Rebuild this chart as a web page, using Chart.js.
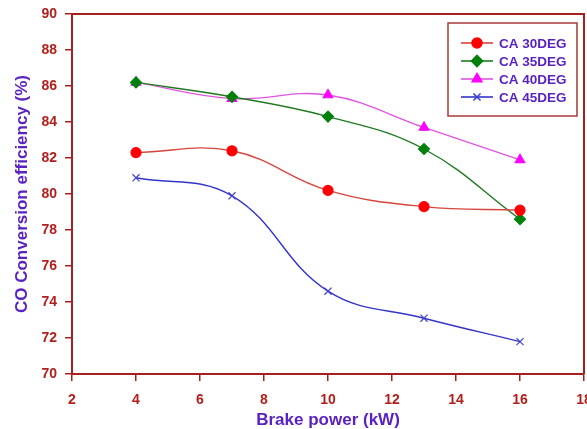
<!DOCTYPE html>
<html><head><meta charset="utf-8">
<script src="https://cdn.jsdelivr.net/npm/chart.js@4/dist/chart.umd.min.js"></script>
<style>html,body{margin:0;padding:0;background:#fff}#wrap{width:587px;height:429px}</style>
</head><body><div id="wrap"><canvas id="c" width="587" height="429"></canvas></div>
<script>
const xValues = [4, 7, 10, 13, 16];
const ca30 = [82.3, 82.4, 80.2, 79.3, 79.1];
const ca35 = [86.2, 85.4, 84.3, 82.5, 78.6];
const ca40 = [86.2, 85.3, 85.5, 83.7, 81.9];
const ca45 = [80.9, 79.9, 74.6, 73.1, 71.8];
const seriesNames = ['CA 30DEG', 'CA 35DEG', 'CA 40DEG', 'CA 45DEG'];
const xTitle = 'Brake power (kW)';
const yTitle = 'CO Conversion efficiency (%)';

const axisColor = '#a8201e';
const tickTextColor = '#b0201c';
const titleColor = '#5a22c0';

function pts(vals){ return vals.map((v,i)=>({x:xValues[i], y:v})); }

const styles = [
  {line:'#d8453c', fill:'#ff0000', point:'circle', r:5},
  {line:'#1f7a1f', fill:'#00800a', point:'rectRot', r:5.5},
  {line:'#e055e0', fill:'#ff00ff', point:'triangle', r:5.5},
  {line:'#3535c8', fill:'#4040d0', point:'crossRot', r:5}
];
const allVals = [ca30, ca35, ca40, ca45];

const datasets = allVals.map((vals,i)=>({
  label: seriesNames[i],
  data: pts(vals),
  borderColor: styles[i].line,
  backgroundColor: styles[i].fill,
  pointBorderColor: styles[i].fill,
  pointBackgroundColor: styles[i].fill,
  pointStyle: styles[i].point,
  pointRadius: styles[i].r,
  pointBorderWidth: 1.2,
  borderWidth: 1.4,
  tension: 0.4,
  fill: false
}));

const framePlugin = {
  id: 'frame',
  afterDatasetsDraw(chart){
    const {ctx, chartArea:a} = chart;
    ctx.save();
    ctx.strokeStyle = axisColor;
    ctx.lineWidth = 2;
    ctx.beginPath();
    ctx.moveTo(a.left, a.top); ctx.lineTo(a.right, a.top); ctx.lineTo(a.right, a.bottom);
    ctx.stroke();
    // legend box
    const bx = 448, by = 23, bw = 129, bh = 93;
    ctx.fillStyle = '#fff';
    ctx.fillRect(bx, by, bw, bh);
    ctx.strokeStyle = '#a83a3a';
    ctx.lineWidth = 1.5;
    ctx.strokeRect(bx, by, bw, bh);
    ctx.font = 'bold 13.5px "Liberation Sans", Arial, sans-serif';
    ctx.textBaseline = 'middle';
    seriesNames.forEach((name,i)=>{
      const y = by + 20 + i*18;
      const s = styles[i];
      ctx.strokeStyle = s.line;
      ctx.lineWidth = 1.6;
      ctx.beginPath(); ctx.moveTo(bx+13, y); ctx.lineTo(bx+45, y); ctx.stroke();
      ctx.fillStyle = s.fill; ctx.strokeStyle = s.fill;
      Chart.helpers.drawPoint(ctx, {pointStyle: s.point, radius: s.r, rotation: 0, borderWidth: 1.2}, bx+29, y);
      ctx.fillStyle = titleColor;
      ctx.textAlign = 'left';
      ctx.fillText(name, bx+51, y+1);
    });
    ctx.restore();
  }
};

const tickFont = { family: '"Liberation Sans", Arial', size: 14, weight: 'bold' };
const titleFont = { family: '"Liberation Sans", Arial', size: 17, weight: 'bold' };

new Chart(document.getElementById('c'), {
  type: 'line',
  data: { datasets },
  options: {
    responsive: false,
    animation: false,
    layout: { autoPadding: false, padding: { left: 0, right: 3, top: 14, bottom: 0 } },
    plugins: { legend: { display: false }, tooltip: { enabled: false } },
    scales: {
      x: {
        type: 'linear', min: 2, max: 18,
        ticks: { stepSize: 2, color: tickTextColor, font: tickFont, padding: 11, maxRotation: 0 },
        grid: { display: true, drawOnChartArea: false, drawTicks: true, tickLength: 7, color: axisColor, lineWidth: 1.5 },
        border: { color: axisColor, width: 2 },
        title: { display: true, text: xTitle, color: titleColor, font: titleFont, padding: { top: 1, bottom: -1.5 } },
        afterFit(scale){
          scale.paddingRight = 0; scale.paddingLeft = 0;
          scale.height = 55;
          scale.getPadding = function(){ return {left: 0, top: 0, right: 0, bottom: 0}; };
        }
      },
      y: {
        min: 70, max: 90,
        ticks: { stepSize: 2, color: tickTextColor, font: tickFont, padding: 8 },
        grid: { display: true, drawOnChartArea: false, drawTicks: true, tickLength: 7, color: axisColor, lineWidth: 1.5 },
        border: { color: axisColor, width: 2 },
        title: { display: true, text: yTitle, color: titleColor, font: titleFont, padding: { top: 12, bottom: 0 } },
        afterFit(scale){
          scale.width = 72;
          scale.paddingTop = 0; scale.paddingBottom = 0;
          scale.getPadding = function(){ return {left: 0, top: 0, right: 0, bottom: 0}; };
        }
      }
    }
  },
  plugins: [framePlugin]
});
</script></body></html>
